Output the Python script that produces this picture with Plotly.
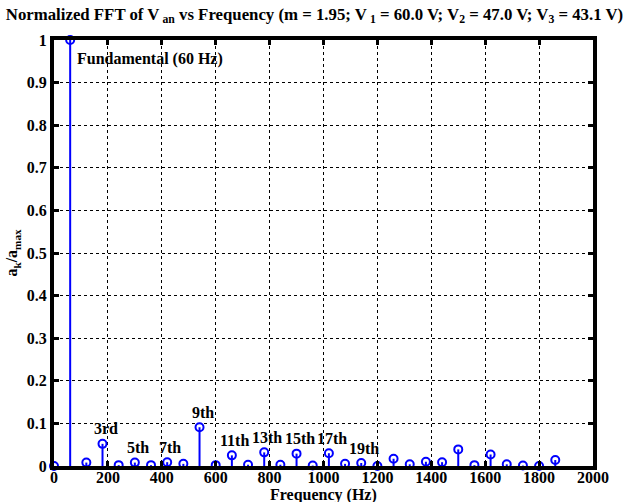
import plotly.graph_objects as go

freqs = [0, 60, 120, 180, 240, 300, 360, 420, 480, 540, 600, 660, 720, 780, 840, 900,
         960, 1020, 1080, 1140, 1200, 1260, 1320, 1380, 1440, 1500, 1560, 1620, 1680,
         1740, 1800, 1860]
values = [0.0, 1.0, 0.008, 0.052, 0.002, 0.008, 0.002, 0.009, 0.005, 0.091, 0.002,
          0.025, 0.003, 0.032, 0.003, 0.029, 0.001, 0.030, 0.005, 0.007, 0.0, 0.017,
          0.004, 0.010, 0.009, 0.039, 0.002, 0.027, 0.004, 0.001, 0.0, 0.014]

harm_freqs = [180, 300, 420, 540, 660, 780, 900, 1020, 1140]
harm_labels = ["3rd", "5th", "7th", "9th", "11th", "13th", "15th", "17th", "19th"]

fund_label = "Fundamental (60 Hz)"
x_title = "Frequency (Hz)"

BLUE = "#0000ff"
FONT = "Liberation Serif"
FS = 16

stem_x, stem_y = [], []
for f, v in zip(freqs, values):
    stem_x += [f, f, None]
    stem_y += [0, v, None]

fig = go.Figure()
fig.add_trace(go.Scatter(x=stem_x, y=stem_y, mode="lines",
                         line=dict(color=BLUE, width=2), hoverinfo="skip",
                         cliponaxis=False, showlegend=False))
fig.add_trace(go.Scatter(x=freqs, y=values, mode="markers",
                         marker=dict(symbol="circle-open", size=8, color=BLUE,
                                     line=dict(color=BLUE, width=2)),
                         cliponaxis=False, showlegend=False))

annotations = []
val_map = dict(zip(freqs, values))
for f, lab in zip(harm_freqs, harm_labels):
    annotations.append(dict(x=f, y=val_map[f], text="<b>%s</b>" % lab, showarrow=False,
                            xanchor="center", yanchor="middle", xshift=3, yshift=15,
                            font=dict(family=FONT, size=FS, color="black")))
annotations.append(dict(x=78, y=0.955, text="<b>%s</b>" % fund_label, showarrow=False,
                        xanchor="left", yanchor="middle",
                        font=dict(family=FONT, size=FS, color="black")))
annotations.append(dict(x=0.5, y=0, xref="paper", yref="paper", text="<b>%s</b>" % x_title,
                        showarrow=False, xanchor="center", yanchor="middle", yshift=-29,
                        font=dict(family=FONT, size=FS, color="black")))

fig.update_layout(
    width=629, height=502,
    margin=dict(l=54, r=36, t=40, b=36, autoexpand=False),
    paper_bgcolor="white", plot_bgcolor="white",
    font=dict(family=FONT, size=FS, color="black"),
    title=dict(text="<b>Normalized FFT of V<sub> an</sub> vs Frequency (m = 1.95; V<sub> 1</sub> = 60.0 V; V<sub>2</sub> = 47.0 V; V<sub>3</sub> = 43.1 V)</b>",
               x=0.5, xanchor="center", y=0.972, yanchor="middle",
               font=dict(family=FONT, size=16.8, color="black")),
    annotations=annotations,
)
fig.update_xaxes(range=[0, 2000], tickvals=list(range(0, 2001, 200)),
                 ticktext=["<b>%d</b>" % t for t in range(0, 2001, 200)],
                 automargin=False, ticklabelstandoff=-6,
                 showline=True, linewidth=4, linecolor="black", mirror="ticks",
                 ticks="inside", ticklen=5, tickwidth=3, tickcolor="black",
                 showgrid=True, gridcolor="black", griddash="dot", gridwidth=1,
                 zeroline=False)
yt = [i / 10 for i in range(11)]
fig.update_yaxes(range=[0, 1], tickvals=yt,
                 ticktext=["<b>%s</b>" % ("0" if t == 0 else ("1" if t == 1 else "%.1f" % t)) for t in yt],
                 automargin=False,
                 showline=True, linewidth=4, linecolor="black", mirror="ticks",
                 ticks="inside", ticklen=5, tickwidth=3, tickcolor="black",
                 showgrid=True, gridcolor="black", griddash="dot", gridwidth=1,
                 zeroline=False,
                 title=dict(text="<b>a<sub>k</sub>/a<sub>max</sub></b>", standoff=6,
                            font=dict(family=FONT, size=FS)))

fig.write_html("out.html", config={"displayModeBar": False},
               post_script="document.body.style.margin='0';")
